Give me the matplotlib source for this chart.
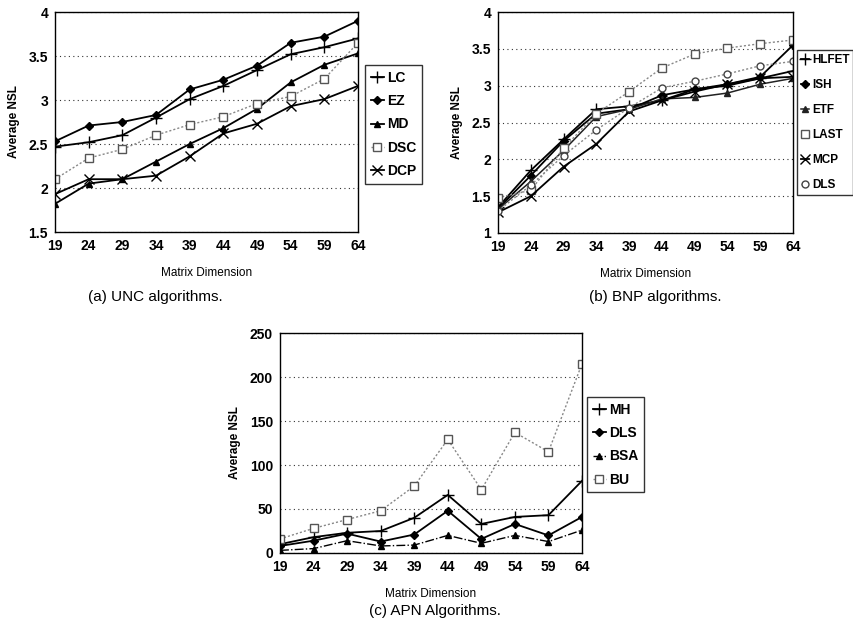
import matplotlib
matplotlib.use("Agg")
import matplotlib.pyplot as plt
from matplotlib.ticker import MultipleLocator, FuncFormatter

plt.rcParams['font.family'] = ['Liberation Sans', 'DejaVu Sans']

x_dims = [19, 24, 29, 34, 39, 44, 49, 54, 59, 64]

# (a) UNC algorithms
unc_names = ["LC", "EZ", "MD", "DSC", "DCP"]
unc_LC = [2.47, 2.52, 2.60, 2.80, 3.01, 3.16, 3.34, 3.52, 3.60, 3.70]
unc_EZ = [2.53, 2.71, 2.75, 2.83, 3.12, 3.23, 3.39, 3.65, 3.72, 3.90]
unc_MD = [1.82, 2.05, 2.10, 2.30, 2.50, 2.68, 2.90, 3.20, 3.40, 3.53]
unc_DSC = [2.10, 2.34, 2.44, 2.60, 2.72, 2.81, 2.96, 3.04, 3.24, 3.65]
unc_DCP = [1.93, 2.10, 2.10, 2.14, 2.36, 2.62, 2.73, 2.93, 3.01, 3.16]

# (b) BNP algorithms
bnp_names = ["HLFET", "ISH", "ETF", "LAST", "MCP", "DLS"]
bnp_HLFET = [1.35, 1.85, 2.27, 2.68, 2.72, 2.80, 2.95, 3.00, 3.10, 3.20]
bnp_ISH = [1.33, 1.78, 2.25, 2.62, 2.68, 2.87, 2.95, 3.02, 3.12, 3.55]
bnp_ETF = [1.32, 1.70, 2.12, 2.58, 2.68, 2.82, 2.84, 2.90, 3.02, 3.10]
bnp_LAST = [1.48, 1.58, 2.15, 2.62, 2.92, 3.24, 3.43, 3.51, 3.57, 3.62]
bnp_MCP = [1.28, 1.50, 1.90, 2.21, 2.65, 2.80, 2.92, 3.02, 3.10, 3.12]
bnp_DLS = [1.30, 1.65, 2.05, 2.40, 2.70, 2.97, 3.06, 3.16, 3.27, 3.33]

# (c) APN algorithms
apn_names = ["MH", "DLS", "BSA", "BU"]
apn_MH = [10, 18, 23, 25, 40, 66, 33, 41, 43, 82]
apn_DLS = [8, 14, 22, 13, 21, 48, 16, 33, 20, 41]
apn_BSA = [3, 5, 14, 8, 9, 20, 11, 20, 13, 26]
apn_BU = [16, 28, 38, 48, 76, 129, 72, 137, 115, 215]

fig = plt.figure(figsize=(8.54, 6.25), dpi=100)
W, H = 854.0, 625.0

def px_axes(l, t, r, b):
    return fig.add_axes([l / W, 1 - b / H, (r - l) / W, (b - t) / H])

solid = dict(color='black', lw=1.3)
dotted = dict(color='#888888', lw=1.0, ls=(0, (1.5, 1.5)))

def style(ax, ylim, ystep):
    ax.set_xlim(19, 64)
    ax.set_ylim(*ylim)
    ax.set_xticks(x_dims)
    ax.yaxis.set_major_locator(MultipleLocator(ystep))
    ax.yaxis.set_major_formatter(FuncFormatter(lambda v, p: "%g" % v))
    ax.grid(axis='y', color='#333333', ls=(0, (1, 3)), lw=0.8)
    ax.set_axisbelow(True)
    ax.tick_params(length=0, labelsize=10, pad=5)
    for lbl in ax.get_xticklabels() + ax.get_yticklabels():
        lbl.set_fontweight('bold')
    for s in ax.spines.values():
        s.set_color('black')
        s.set_linewidth(1.0)
    ax.set_ylabel("Average NSL", fontsize=8.5, fontweight='bold', labelpad=6)
    ax.set_xlabel("Matrix Dimension", fontsize=8.5, labelpad=10)

def legend(ax, l, t, fs, spacing, hl=1.0, bp=0.5):
    leg = ax.legend(loc='upper left', bbox_to_anchor=(l / W, 1 - t / H),
                    bbox_transform=fig.transFigure, frameon=True, fancybox=False,
                    handlelength=hl, handletextpad=0.2, labelspacing=spacing,
                    borderpad=bp, fontsize=fs, borderaxespad=0)
    leg.get_frame().set_edgecolor('black')
    leg.get_frame().set_linewidth(1.0)
    for t_ in leg.get_texts():
        t_.set_fontweight('bold')

# Panel (a)
ax1 = px_axes(55, 12, 358, 232)
ax1.plot(x_dims, unc_LC, marker='+', ms=8, mew=1.0, label=unc_names[0], **solid)
ax1.plot(x_dims, unc_EZ, marker='D', ms=4, label=unc_names[1], **solid)
ax1.plot(x_dims, unc_MD, marker='^', ms=5, label=unc_names[2], **solid)
ax1.plot(x_dims, unc_DSC, marker='s', ms=6, mfc='white', mec='#555555', label=unc_names[3], **dotted)
ax1.plot(x_dims, unc_DCP, marker='x', ms=7, mew=1.0, label=unc_names[4], **solid)
style(ax1, (1.5, 4), 0.5)
legend(ax1, 365, 65, 10, 0.68, hl=1.0, bp=0.4)

# Panel (b)
ax2 = px_axes(498, 12, 793, 233)
ax2.plot(x_dims, bnp_HLFET, marker='+', ms=8, mew=1.0, label=bnp_names[0], **solid)
ax2.plot(x_dims, bnp_ISH, marker='D', ms=4, label=bnp_names[1], **solid)
ax2.plot(x_dims, bnp_ETF, marker='^', ms=5, label=bnp_names[2], color='#222222', lw=1.1)
ax2.plot(x_dims, bnp_LAST, marker='s', ms=6, mfc='white', mec='#555555', label=bnp_names[3], **dotted)
ax2.plot(x_dims, bnp_MCP, marker='x', ms=7, mew=1.0, label=bnp_names[4], **solid)
ax2.plot(x_dims, bnp_DLS, marker='o', ms=5, mfc='white', mec='#444444', label=bnp_names[5], **dotted)
style(ax2, (1, 4), 0.5)
legend(ax2, 797, 50, 8.5, 1.1, hl=0.7, bp=0.35)

# Panel (c)
ax3 = px_axes(280, 333, 582, 553)
ax3.plot(x_dims, apn_MH, marker='+', ms=8, mew=1.0, label=apn_names[0], **solid)
ax3.plot(x_dims, apn_DLS, marker='D', ms=4, label=apn_names[1], **solid)
ax3.plot(x_dims, apn_BSA, marker='^', ms=5, label=apn_names[2], color='black', lw=1.0, ls='-.')
ax3.plot(x_dims, apn_BU, marker='s', ms=6, mfc='white', mec='#555555', label=apn_names[3], **dotted)
style(ax3, (0, 250), 50)
legend(ax3, 587, 397, 10, 0.68, hl=1.0, bp=0.4)

# Captions
cap = dict(fontsize=11, family=['Liberation Sans', 'DejaVu Sans'], ha='center', va='center')
fig.text(155 / W, 1 - 297 / H, "(a) UNC algorithms.", **cap)
fig.text(655 / W, 1 - 297 / H, "(b) BNP algorithms.", **cap)
fig.text(435 / W, 1 - 611 / H, "(c) APN Algorithms.", **cap)

fig.savefig("out.png", dpi=100)
